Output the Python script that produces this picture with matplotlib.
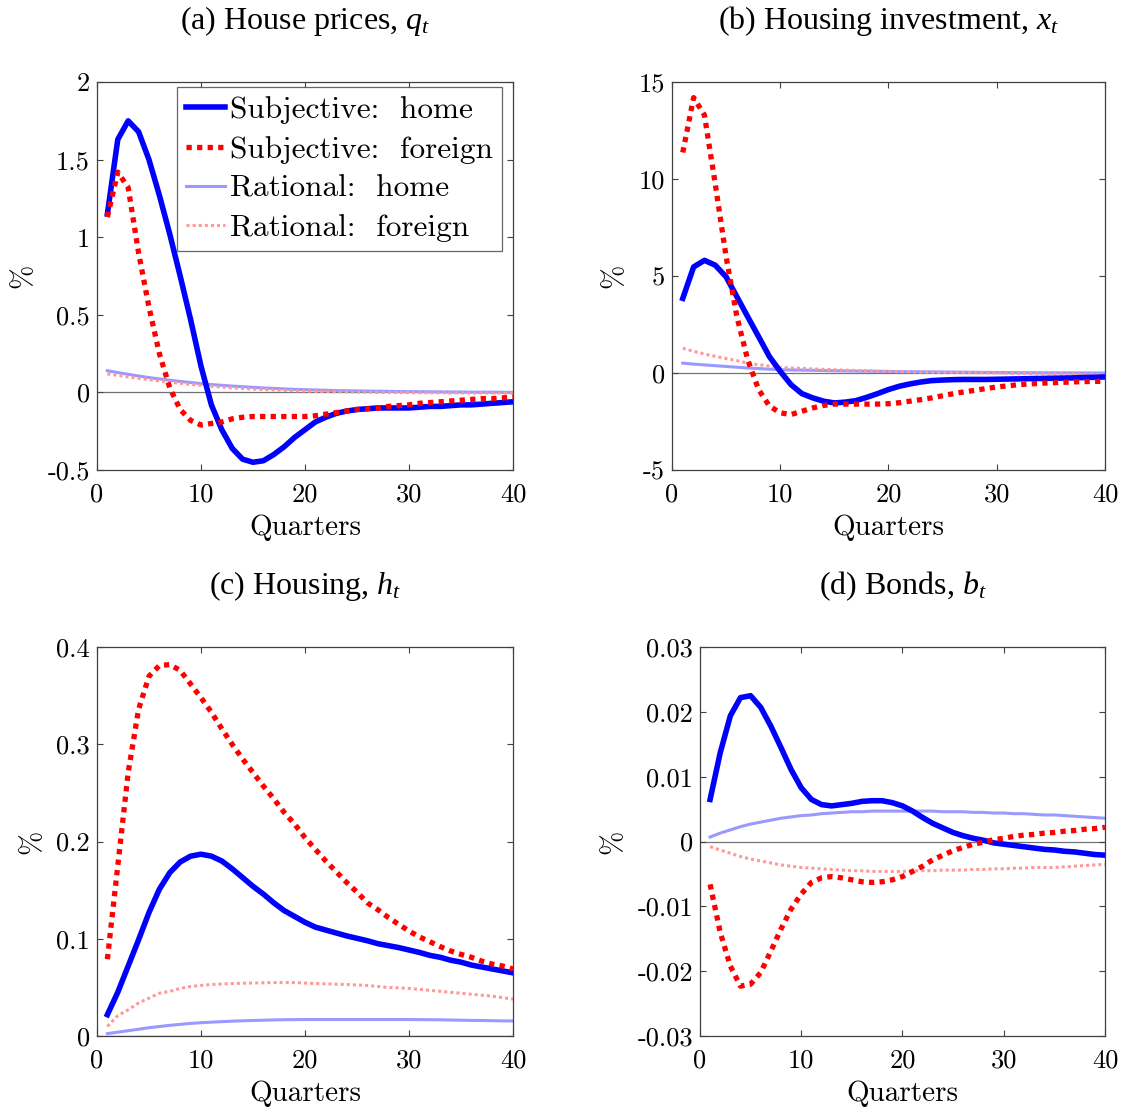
import numpy as np
import matplotlib
matplotlib.use("Agg")
import matplotlib.pyplot as plt

plt.rcParams["mathtext.fontset"] = "custom"
plt.rcParams["mathtext.rm"] = "Liberation Serif"
plt.rcParams["mathtext.it"] = "Liberation Serif:italic"

quarters = np.arange(1, 41)

# (a) house prices
qa_subj_home = [1.15, 1.63, 1.75, 1.68, 1.50, 1.27, 1.02, 0.75, 0.47, 0.17,
                -0.08, -0.24, -0.36, -0.43, -0.45, -0.44, -0.40, -0.35, -0.29, -0.24,
                -0.19, -0.16, -0.135, -0.12, -0.11, -0.105, -0.10, -0.10, -0.10, -0.10,
                -0.095, -0.09, -0.09, -0.085, -0.08, -0.08, -0.075, -0.07, -0.065, -0.06]
qa_subj_for = [1.13, 1.42, 1.32, 0.90, 0.55, 0.25, 0.03, -0.11, -0.18, -0.21,
               -0.20, -0.19, -0.17, -0.16, -0.155, -0.155, -0.155, -0.155, -0.155, -0.155,
               -0.15, -0.14, -0.13, -0.12, -0.11, -0.105, -0.10, -0.09, -0.085, -0.08,
               -0.07, -0.065, -0.06, -0.055, -0.05, -0.045, -0.04, -0.04, -0.035, -0.03]
qa_rat_home = [0.14, 0.128, 0.117, 0.106, 0.096, 0.087, 0.079, 0.071, 0.064, 0.057,
               0.051, 0.046, 0.041, 0.037, 0.033, 0.029, 0.026, 0.023, 0.020, 0.018,
               0.016, 0.014, 0.012, 0.011, 0.010, 0.009, 0.008, 0.007, 0.006, 0.005,
               0.005, 0.004, 0.004, 0.003, 0.003, 0.002, 0.002, 0.002, 0.001, 0.001]
qa_rat_for = [0.12, 0.11, 0.10, 0.091, 0.082, 0.074, 0.066, 0.059, 0.052, 0.046,
              0.040, 0.035, 0.030, 0.026, 0.022, 0.019, 0.016, 0.013, 0.011, 0.009,
              0.007, 0.005, 0.004, 0.003, 0.002, 0.001, 0.0, 0.0, -0.001, -0.001,
              -0.002, -0.002, -0.002, -0.003, -0.003, -0.003, -0.003, -0.004, -0.004, -0.004]

# (b) housing investment
xb_subj_home = [3.85, 5.47, 5.81, 5.56, 4.96, 3.93, 2.9, 1.88, 0.85, 0.09,
                -0.6, -1.06, -1.28, -1.45, -1.54, -1.5, -1.42, -1.25, -1.06, -0.85,
                -0.68, -0.56, -0.46, -0.39, -0.36, -0.34, -0.33, -0.33, -0.33, -0.32,
                -0.31, -0.30, -0.29, -0.28, -0.27, -0.26, -0.25, -0.23, -0.22, -0.2]
xb_subj_for = [11.37, 14.2, 13.3, 9.74, 6.0, 2.9, 0.68, -0.85, -1.7, -2.05,
               -2.14, -1.97, -1.8, -1.67, -1.6, -1.6, -1.6, -1.6, -1.6, -1.58,
               -1.53, -1.45, -1.37, -1.28, -1.17, -1.06, -0.97, -0.89, -0.8, -0.72,
               -0.66, -0.6, -0.56, -0.53, -0.5, -0.48, -0.46, -0.44, -0.43, -0.43]
xb_rat_home = [0.51, 0.46, 0.42, 0.38, 0.34, 0.30, 0.26, 0.23, 0.20, 0.17,
               0.16, 0.15, 0.14, 0.13, 0.12, 0.11, 0.10, 0.095, 0.09, 0.08,
               0.075, 0.07, 0.065, 0.06, 0.055, 0.05, 0.045, 0.04, 0.035, 0.03,
               0.025, 0.02, 0.018, 0.015, 0.012, 0.01, 0.008, 0.005, 0.003, 0.0]
xb_rat_for = [1.28, 1.12, 0.98, 0.86, 0.75, 0.64, 0.51, 0.43, 0.36, 0.29,
              0.26, 0.24, 0.21, 0.19, 0.17, 0.15, 0.13, 0.12, 0.10, 0.085,
              0.075, 0.065, 0.055, 0.045, 0.035, 0.028, 0.02, 0.013, 0.006, 0.0,
              -0.01, -0.02, -0.03, -0.04, -0.045, -0.05, -0.06, -0.065, -0.07, -0.08]

# (c) housing
hc_subj_home = [0.022, 0.045, 0.072, 0.099, 0.127, 0.151, 0.168, 0.179, 0.185, 0.187,
                0.185, 0.180, 0.172, 0.163, 0.154, 0.146, 0.137, 0.129, 0.123, 0.117,
                0.112, 0.109, 0.106, 0.103, 0.1005, 0.098, 0.095, 0.093, 0.091, 0.0885,
                0.086, 0.083, 0.081, 0.078, 0.076, 0.073, 0.071, 0.069, 0.067, 0.065]
hc_subj_for = [0.079, 0.175, 0.271, 0.336, 0.370, 0.381, 0.382, 0.376, 0.362, 0.348,
               0.333, 0.316, 0.300, 0.285, 0.271, 0.257, 0.244, 0.230, 0.218, 0.204,
               0.192, 0.180, 0.169, 0.158, 0.148, 0.137, 0.130, 0.122, 0.115, 0.108,
               0.102, 0.097, 0.092, 0.0875, 0.084, 0.081, 0.077, 0.074, 0.072, 0.069]
hc_rat_home = [0.0025, 0.004, 0.0055, 0.007, 0.0086, 0.0098, 0.011, 0.012, 0.013, 0.0137,
               0.0143, 0.0148, 0.0153, 0.0157, 0.016, 0.0163, 0.0166, 0.0168, 0.0169, 0.017,
               0.017, 0.017, 0.017, 0.017, 0.017, 0.017, 0.017, 0.017, 0.017, 0.017,
               0.0169, 0.0168, 0.0167, 0.0165, 0.0163, 0.0161, 0.016, 0.0158, 0.0156, 0.0155]
hc_rat_for = [0.010, 0.021, 0.027, 0.034, 0.039, 0.044, 0.046, 0.049, 0.051, 0.052,
              0.053, 0.0535, 0.054, 0.0543, 0.0545, 0.0548, 0.055, 0.055, 0.055, 0.0545,
              0.054, 0.0537, 0.0533, 0.053, 0.0525, 0.052, 0.051, 0.050, 0.0495, 0.049,
              0.048, 0.047, 0.046, 0.045, 0.044, 0.043, 0.042, 0.041, 0.0395, 0.038]

# (d) bonds
bd_subj_home = [0.0065, 0.0137, 0.0194, 0.0222, 0.0225, 0.0207, 0.0178, 0.0145, 0.0111, 0.0083,
                0.0065, 0.0057, 0.0055, 0.0057, 0.0059, 0.0062, 0.0063, 0.0063, 0.0060, 0.0055,
                0.0047, 0.0037, 0.0028, 0.0021, 0.0014, 0.0009, 0.0005, 0.0002, -0.0002, -0.0004,
                -0.0006, -0.0008, -0.001, -0.0012, -0.0013, -0.0015, -0.0016, -0.0018, -0.002, -0.0021]
bd_subj_for = [-0.0066, -0.014, -0.0192, -0.0223, -0.022, -0.0202, -0.0169, -0.0135, -0.0104, -0.0081,
               -0.0063, -0.0056, -0.0054, -0.0056, -0.0059, -0.0062, -0.0063, -0.0062, -0.0059, -0.0054,
               -0.0046, -0.0038, -0.0028, -0.0021, -0.0014, -0.0009, -0.0004, -0.0001, 0.0003, 0.0005,
               0.0008, 0.001, 0.0011, 0.0013, 0.0014, 0.0016, 0.0017, 0.0019, 0.002, 0.0022]
bd_rat_home = [0.0007, 0.0013, 0.0018, 0.0023, 0.0027, 0.003, 0.0033, 0.0036, 0.0038, 0.004,
               0.0041, 0.0043, 0.0044, 0.0045, 0.0046, 0.0046, 0.0047, 0.0047, 0.0047, 0.0047,
               0.0047, 0.0047, 0.0047, 0.0046, 0.0046, 0.0046, 0.0045, 0.0045, 0.0044, 0.0044,
               0.0043, 0.0043, 0.0042, 0.0041, 0.0041, 0.004, 0.0039, 0.0038, 0.0037, 0.0036]
bd_rat_for = [-0.0008, -0.0013, -0.0018, -0.0023, -0.0027, -0.003, -0.0033, -0.0036, -0.0038, -0.004,
              -0.0041, -0.0042, -0.0043, -0.0044, -0.0045, -0.0045, -0.0046, -0.0046, -0.0046, -0.0046,
              -0.0045, -0.0045, -0.0045, -0.0044, -0.0044, -0.0044, -0.0043, -0.0043, -0.0042, -0.0042,
              -0.0041, -0.0041, -0.004, -0.004, -0.004, -0.0039, -0.0038, -0.0037, -0.0036, -0.0035]

panels = [
    ("(a) House prices, $q_t$", [qa_subj_home, qa_subj_for, qa_rat_home, qa_rat_for],
     [-0.5, 0, 0.5, 1, 1.5, 2], ["-0.5", "0", "0.5", "1", "1.5", "2"]),
    ("(b) Housing investment, $x_t$", [xb_subj_home, xb_subj_for, xb_rat_home, xb_rat_for],
     [-5, 0, 5, 10, 15], ["-5", "0", "5", "10", "15"]),
    ("(c) Housing, $h_t$", [hc_subj_home, hc_subj_for, hc_rat_home, hc_rat_for],
     [0, 0.1, 0.2, 0.3, 0.4], ["0", "0.1", "0.2", "0.3", "0.4"]),
    ("(d) Bonds, $b_t$", [bd_subj_home, bd_subj_for, bd_rat_home, bd_rat_for],
     [-0.03, -0.02, -0.01, 0, 0.01, 0.02, 0.03],
     ["-0.03", "-0.02", "-0.01", "0", "0.01", "0.02", "0.03"]),
]
labels = ["Subjective:  home", "Subjective:  foreign", "Rational:  home", "Rational:  foreign"]

# axes boxes in figure fractions (left, bottom, width, height)
boxes = [(0.0862, 0.5773, 0.3698, 0.3489), (0.5973, 0.5773, 0.3849, 0.3489),
         (0.0862, 0.0683, 0.3698, 0.3498), (0.6222, 0.0683, 0.3600, 0.3498)]

cm = "cmr10"
fig = plt.figure(figsize=(11.25, 11.12), dpi=100)

for (title, series, yt, ytl), box in zip(panels, boxes):
    ax = fig.add_axes(box)
    ax.axhline(0, color="0.45", lw=0.9, zorder=1)
    sh, sf, rh, rf = series
    ax.plot(quarters, rh, color=(0.6, 0.6, 1.0), lw=2.2, label=labels[2], zorder=2)
    l4, = ax.plot(quarters, rf, color=(1.0, 0.6, 0.6), lw=2.2, label=labels[3], zorder=2)
    l4.set_dashes((1, 1))
    l1, = ax.plot(quarters, sh, color="#0000ff", lw=4.0, label=labels[0], zorder=3)
    l2, = ax.plot(quarters, sf, color="#ff0000", lw=3.8, label=labels[1], zorder=4,
                  solid_capstyle="butt")
    l2.set_dashes((1, 1))
    ax.set_xlim(0, 40)
    ax.set_ylim(yt[0], yt[-1])
    ax.set_xticks([0, 10, 20, 30, 40])
    ax.set_xticklabels(["0", "10", "20", "30", "40"], family=cm, fontsize=19)
    ax.set_yticks(yt)
    ax.set_yticklabels(ytl, family=cm, fontsize=19)
    ax.tick_params(direction="in", top=True, right=True, length=4, width=0.8,
                   color="0.25")
    ax.tick_params(axis="x", pad=9)
    ax.tick_params(axis="y", pad=5)
    for s in ax.spines.values():
        s.set_color("0.25")
        s.set_linewidth(0.9)
    ax.set_xlabel("Quarters", family=cm, fontsize=21, labelpad=6)
    ax.set_ylabel("%", family=cm, fontsize=21, labelpad=8)
    ax.set_title(title, family="Liberation Serif", fontsize=23, pad=38)
    if title.startswith("(a)"):
        h, lab = ax.get_legend_handles_labels()
        order = [2, 3, 0, 1]
        leg = ax.legend([h[i] for i in order], [lab[i] for i in order],
                        loc="upper right", bbox_to_anchor=(0.9736, 0.987),
                        prop={"family": cm, "size": 22.5},
                        frameon=True, fancybox=False, handlelength=1.25,
                        handletextpad=0.15, borderpad=0.3, labelspacing=0.36,
                        borderaxespad=0)
        leg.get_frame().set_edgecolor("0.25")
        leg.get_frame().set_linewidth(0.9)

fig.savefig("out.png", dpi=100)
